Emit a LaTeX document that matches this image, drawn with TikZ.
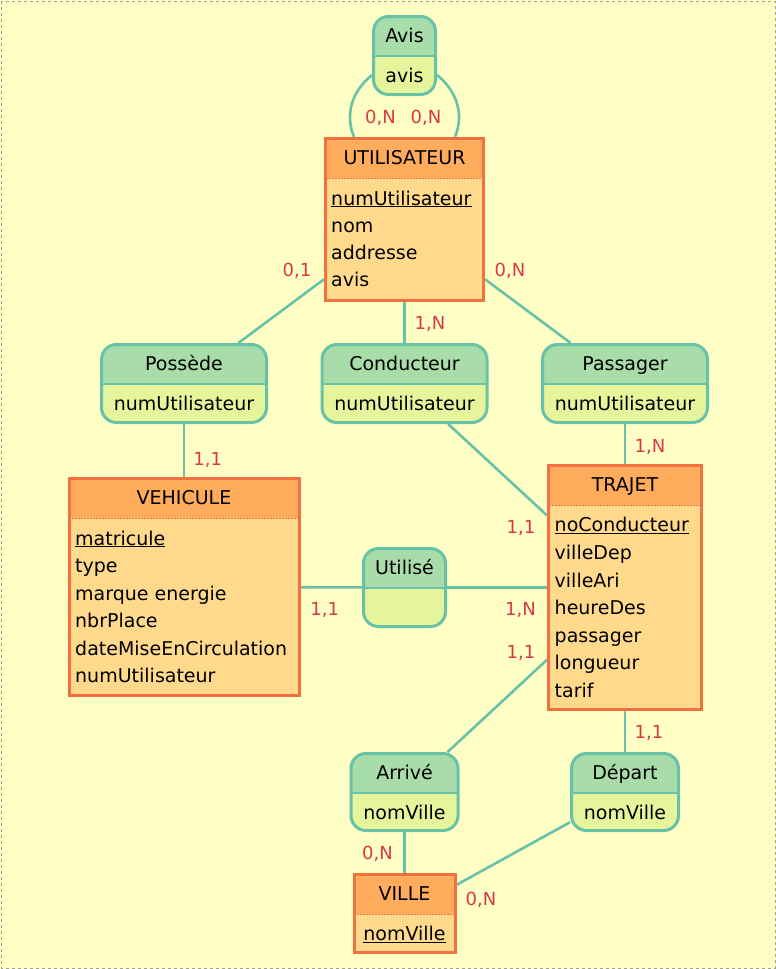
\documentclass[tikz,border=0pt]{standalone}
\usepackage{fontspec}
\setmainfont{DejaVu Sans}
\usetikzlibrary{positioning,calc,backgrounds}
\definecolor{fond}{RGB}{255,255,197}
\definecolor{cadre}{RGB}{160,160,160}
\definecolor{enttete}{RGB}{255,172,92}
\definecolor{entcorps}{RGB}{255,218,140}
\definecolor{entbord}{RGB}{245,112,64}
\definecolor{reltete}{RGB}{168,220,168}
\definecolor{relcorps}{RGB}{230,244,155}
\definecolor{relbord}{RGB}{104,194,168}
\definecolor{cardrouge}{RGB}{217,56,74}

\tikzset{
  entite/.style={draw=entbord, line width=3pt, fill=entcorps, inner sep=0pt,
    path picture={
      \fill[enttete, sharp corners] (path picture bounding box.north west) rectangle ([yshift=-39.5pt]path picture bounding box.north east);
      \draw[entbord, dashed, dash pattern=on 2pt off 1pt, line width=0.8pt] ([yshift=-39.5pt]path picture bounding box.north west) -- ([yshift=-39.5pt]path picture bounding box.north east);
    }},
  relation/.style={draw=relbord, line width=3pt, fill=relcorps, rounded corners=15pt, inner sep=0pt,
    path picture={
      \fill[reltete, sharp corners] (path picture bounding box.north west) rectangle ([yshift=-39.5pt]path picture bounding box.north east);
      \draw[relbord, sharp corners, line width=1.5pt] ([yshift=-39.5pt]path picture bounding box.north west) -- ([yshift=-39.5pt]path picture bounding box.north east);
    }},
  titre/.style={anchor=base, inner sep=0pt, font=\fontsize{19}{23}\selectfont},
  attr/.style={anchor=base west, inner sep=0pt, font=\fontsize{19}{23}\selectfont},
  card/.style={inner sep=0pt, text=cardrouge, text height=13.1pt, text depth=0pt, font=\fontsize{18}{18}\selectfont},
  lien/.style={draw=relbord, line width=2.6pt},
}

\begin{document}
\begin{tikzpicture}[x=1pt, y=-1pt]

    % entites
    \node[entite, minimum width=158, minimum height=162] (util) at (404.5,219.5) {};
    \node[titre] (util-t) at ([yshift=-27.2pt]util.north) {UTILISATEUR};
    \foreach \a [count=\i from 0] in {\underline{numUtilisateur}, nom, addresse, avis}
        \node[attr] (util-a\i) at ([xshift=7pt, yshift={-(68+27.3*\i)*1pt}]util.north west) {\a};

    \node[entite, minimum width=230, minimum height=217] (vehicule) at (184,587) {};
    \node[titre] (vehicule-t) at ([yshift=-27.2pt]vehicule.north) {VEHICULE};
    \foreach \a [count=\i from 0] in {\underline{matricule}, type, marque energie, nbrPlace, dateMiseEnCirculation, numUtilisateur}
        \node[attr] (vehicule-a\i) at ([xshift=7.5pt, yshift={-(68+27.5*\i)*1pt}]vehicule.north west) {\a};

    \node[entite, minimum width=153, minimum height=244] (trajet) at (625,587.5) {};
    \node[titre] (trajet-t) at ([yshift=-27.2pt]trajet.north) {TRAJET};
    \foreach \a [count=\i from 0] in {\underline{noConducteur}, villeDep, villeAri, heureDes, passager, longueur, tarif}
        \node[attr] (trajet-a\i) at ([xshift=7.5pt, yshift={-(67.8+27.6*\i)*1pt}]trajet.north west) {\a};

    \node[entite, minimum width=101, minimum height=78] (ville) at (404.5,913.5) {};
    \node[titre] (ville-t) at ([yshift=-27.2pt]ville.north) {VILLE};
    \node[titre] (ville-a0) at ([yshift=-67.5pt]ville.north) {\underline{nomVille}};

    % associations
    \node[relation, minimum width=62, minimum height=78] (avis) at (404.5,55.5) {};
    \node[titre] (avis-t) at ([yshift=-27.2pt]avis.north) {Avis};
    \node[titre] (avis-a) at ([yshift=-67.2pt]avis.north) {avis};

    \node[relation, minimum width=165, minimum height=78] (possede) at (184,383.5) {};
    \node[titre] (possede-t) at ([yshift=-27.2pt]possede.north) {Possède};
    \node[titre] (possede-a) at ([yshift=-67.2pt]possede.north) {numUtilisateur};

    \node[relation, minimum width=165, minimum height=78] (conducteur) at (404.5,383.5) {};
    \node[titre] (conducteur-t) at ([yshift=-27.2pt]conducteur.north) {Conducteur};
    \node[titre] (conducteur-a) at ([yshift=-67.2pt]conducteur.north) {numUtilisateur};

    \node[relation, minimum width=165, minimum height=78] (passager) at (625,383.5) {};
    \node[titre] (passager-t) at ([yshift=-27.2pt]passager.north) {Passager};
    \node[titre] (passager-a) at ([yshift=-67.2pt]passager.north) {numUtilisateur};

    \node[relation, minimum width=82, minimum height=78] (utilise) at (404.5,587.5) {};
    \node[titre] (utilise-t) at ([yshift=-27.2pt]utilise.north) {Utilisé};

    \node[relation, minimum width=107, minimum height=77] (arrive) at (404.5,792) {};
    \node[titre] (arrive-t) at ([yshift=-27.2pt]arrive.north) {Arrivé};
    \node[titre] (arrive-a) at ([yshift=-67.5pt]arrive.north) {nomVille};

    \node[relation, minimum width=107, minimum height=77] (depart) at (625,792) {};
    \node[titre] (depart-t) at ([yshift=-27.2pt]depart.north) {Départ};
    \node[titre] (depart-a) at ([yshift=-67.5pt]depart.north) {nomVille};

    % cardinalites
    \node[card] (c-avis1) at (380.5,117) {0,N};
    \node[card] (c-avis2) at (426,117) {0,N};
    \node[card] (c-util1) at (297,269.7) {0,1};
    \node[card] (c-util2) at (430,323.3) {1,N};
    \node[card] (c-util3) at (510,269.7) {0,N};
    \node[card] (c-veh1) at (207.8,459) {1,1};
    \node[card] (c-veh2) at (324.7,609) {1,1};
    \node[card] (c-traj1) at (650,446) {1,N};
    \node[card] (c-traj2) at (521,527) {1,1};
    \node[card] (c-traj3) at (520.5,609) {1,N};
    \node[card] (c-traj4) at (521,651.7) {1,1};
    \node[card] (c-traj5) at (649,732) {1,1};
    \node[card] (c-ville1) at (377.5,853) {0,N};
    \node[card] (c-ville2) at (481,899) {0,N};

    \begin{scope}[on background layer]
        \fill[fond] (0,0) rectangle (776,969);
        \draw[cadre, dashed, line width=0.8pt] (1,1) rectangle (775,968);

        \draw[lien] ([yshift=-19.5pt]avis.west) to[out=219, in=112] ([xshift=30pt]util.north west);
        \draw[lien] ([yshift=-19.5pt]avis.east) to[out=-39, in=68] ([xshift=-30pt]util.north east);

        \draw[lien] (util) -- (possede);
        \draw[lien] (util) -- (conducteur);
        \draw[lien] (util) -- (passager);
        \draw[lien] (possede) -- (vehicule);
        \draw[lien] (conducteur) -- (trajet);
        \draw[lien] (passager) -- (trajet);
        \draw[lien] (vehicule) -- (utilise) -- (trajet);
        \draw[lien] (trajet) -- (arrive);
        \draw[lien] (trajet) -- (depart);
        \draw[lien] (arrive) -- (ville);
        \draw[lien] (depart) -- (ville);
    \end{scope}

\end{tikzpicture}
\end{document}
